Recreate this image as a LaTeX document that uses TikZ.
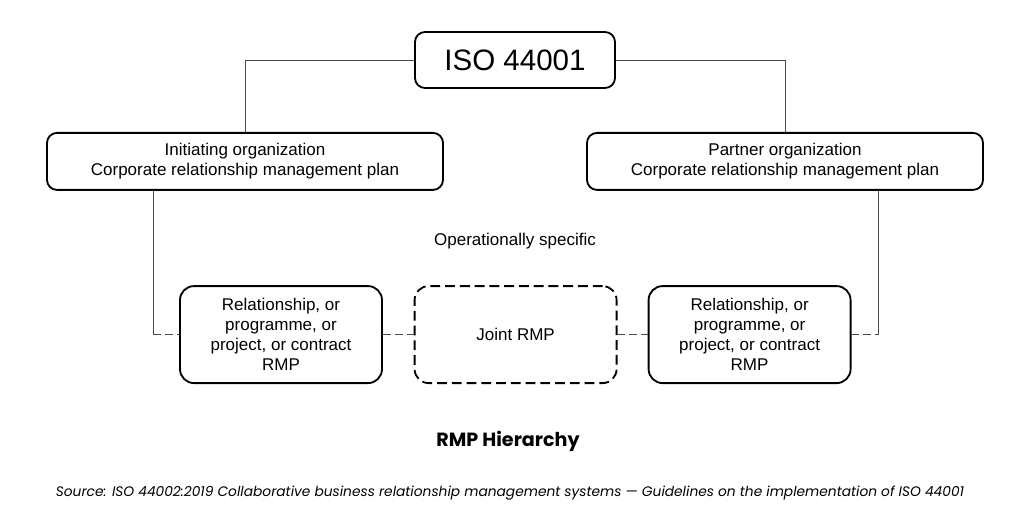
\documentclass[tikz,border=0pt]{standalone}
\usepackage{fontspec}
\setmainfont{Liberation Sans}
\newfontfamily\geofont[Ligatures=TeX]{Poppins}
\usetikzlibrary{calc}

\begin{document}
\begin{tikzpicture}
 \tikzstyle{plan}=[draw,line width=1.3pt,rounded corners=0.25cm,align=center,
 minimum width=9.9cm,minimum height=1.425cm,font=\fontsize{12.1}{14}\selectfont]
 \tikzstyle{rmp}=[draw,line width=1.3pt,rounded corners=0.35cm,align=center,
 minimum width=5.05cm,minimum height=2.425cm,font=\fontsize{12.1}{14.2}\selectfont]
 \tikzstyle{link}=[draw=black!70,line width=0.6pt]
 \tikzstyle{dlink}=[link,dash pattern=on 5.5pt off 3pt]
\useasboundingbox (0,0) rectangle (25.6,13.125);
\node[draw,line width=1.3pt,rounded corners=0.25cm,minimum width=5cm,minimum
 height=1.4cm,font=\fontsize{21}{24}\selectfont] (iso) at (12.875,11.625) {ISO 44001};
\node[plan] (init) at (6.125,9.09) {Initiating organization\\Corporate relationship management plan};
\node[plan] (partner) at (19.625,9.09) {Partner organization\\Corporate relationship management plan};
\node[font=\fontsize{12.1}{14}\selectfont] (ops) at (12.875,7.1) {Operationally specific};
\node[rmp] (rmpl) at (7.025,4.76) {Relationship, or\\programme, or\\project, or contract\\RMP};
\node[rmp,dash pattern=on 7pt off 3.5pt] (joint) at (12.89,4.76) {Joint RMP};
\node[rmp] (rmpr) at (18.74,4.76) {Relationship, or\\programme, or\\project, or contract\\RMP};
\coordinate (lft) at (3.825,4.76);
\coordinate (rgt) at (21.95,4.76);
% connectors
\draw[link] (iso.west) -| (init.north);
\draw[link] (iso.east) -| (partner.north);
\draw[link] (init.south -| lft) -- (lft);
\draw[dlink] (lft) -- (rmpl.west);
\draw[dlink] (rmpl.east) -- (joint.west);
\draw[dlink] (joint.east) -- (rmpr.west);
\draw[dlink] (rmpr.east) -- (rgt);
\draw[link] (rgt) -- (partner.south -| rgt);
% caption
\node[font=\geofont\bfseries\fontsize{13.6}{16}\selectfont] (title) at (12.7,2.1) {RMP Hierarchy};
\node[font=\geofont\itshape\fontsize{9.8}{11}\selectfont] (source) at (12.75,0.8)
 {Source: ISO 44002:2019 Collaborative business relationship management systems — Guidelines on the implementation of ISO 44001};
\end{tikzpicture}
\end{document}
